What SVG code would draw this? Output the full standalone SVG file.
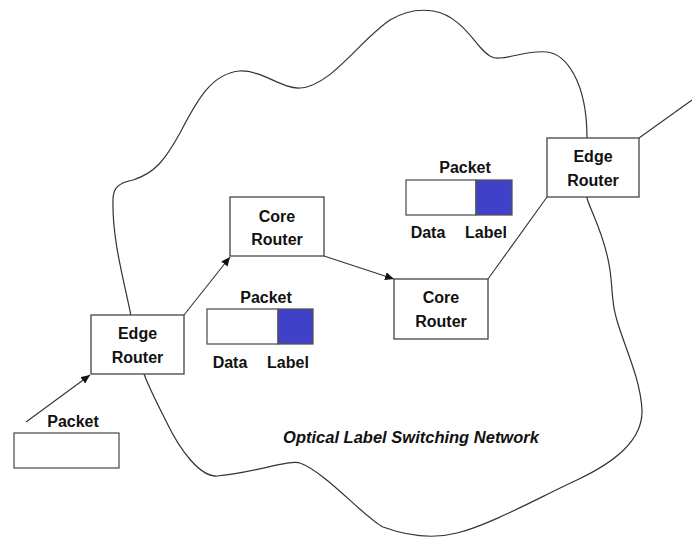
<svg xmlns="http://www.w3.org/2000/svg" width="692" height="538" viewBox="0 0 692 538">
  <style>
    .cloud { fill: none; stroke: #333; stroke-width: 1.2; }
    .box { fill: #fff; stroke: #444; stroke-width: 1.3; }
    .pkt { fill: #fff; stroke: #555; stroke-width: 1.3; }
    .lbl { fill: #3f41c8; stroke: #555; stroke-width: 1.3; }
    .link { fill: none; stroke: #333; stroke-width: 1.1; }
    .t { font-family: "Liberation Sans", Arial, sans-serif; font-weight: bold; font-size: 16px; fill: #111; text-anchor: middle; }
    .title { font-family: "Liberation Sans", Arial, sans-serif; font-weight: bold; font-style: italic; font-size: 16.5px; fill: #111; text-anchor: middle; }
  </style>
  <defs>
    <marker id="arrow" markerUnits="userSpaceOnUse" markerWidth="10" markerHeight="8" refX="9" refY="4" orient="auto">
      <path d="M0,0 L9,4 L0,8 Z" fill="#111"/>
    </marker>
  </defs>
  <rect width="692" height="538" fill="#fff"/>

  <!-- network cloud outline -->
  <path id="cloud" class="cloud" d="M131,316 C124,280 112,240 113,200 C113,188 118,183 133,180 C155,173 165,160 180,133 C197,100 212,73 240,71 C262,70 282,89 300,88 C330,87 360,40 390,20 C405,11 420,9 433,11 C455,14 470,35 480,47 C488,56 493,59 500,58 C515,57 530,50 547,52 C565,54 587,80 587,138 L587,198 C590,210 605,235 610,270 C612,285 612,295 613,300 C615,330 640,370 642,410 C643,440 615,462 577,480 C540,497 490,525 457,533 C430,540 405,535 383,527 C365,518 325,472 300,463 C290,459 250,474 217,476 C200,477 180,450 167,423 C158,405 150,390 144,374 Z"/>

  <!-- connectors -->
  <g id="connectors">
    <line class="link" x1="26" y1="422" x2="90" y2="375" marker-end="url(#arrow)"/>
    <line class="link" x1="184" y1="315" x2="230" y2="257" marker-end="url(#arrow)"/>
    <line class="link" x1="324" y1="256" x2="394" y2="279" marker-end="url(#arrow)"/>
    <line class="link" x1="547" y1="197" x2="488" y2="279"/>
    <line class="link" x1="639" y1="138" x2="692" y2="100"/>
  </g>

  <g id="edge-router-in">
    <rect class="box" x="91" y="315" width="93" height="59"/>
    <text class="t" x="137.5" y="339">Edge</text>
    <text class="t" x="137.5" y="363">Router</text>
  </g>

  <g id="core-router-1">
    <rect class="box" x="230" y="197" width="94" height="59"/>
    <text class="t" x="277" y="222">Core</text>
    <text class="t" x="277" y="245">Router</text>
  </g>

  <g id="core-router-2">
    <rect class="box" x="394" y="279" width="94" height="60"/>
    <text class="t" x="441" y="303">Core</text>
    <text class="t" x="441" y="327">Router</text>
  </g>

  <g id="edge-router-out">
    <rect class="box" x="547" y="138" width="92" height="59"/>
    <text class="t" x="593" y="162">Edge</text>
    <text class="t" x="593" y="186">Router</text>
  </g>

  <g id="packet-in">
    <text class="t" x="73" y="427">Packet</text>
    <rect class="pkt" x="14" y="433" width="105" height="35"/>
  </g>

  <g id="packet-mid">
    <text class="t" x="266" y="303">Packet</text>
    <rect class="pkt" x="207" y="309" width="71" height="35"/>
    <rect class="lbl" x="278" y="309" width="35" height="35"/>
    <text class="t" x="230" y="368">Data</text>
    <text class="t" x="288" y="368">Label</text>
  </g>

  <g id="packet-top">
    <text class="t" x="465" y="173">Packet</text>
    <rect class="pkt" x="406" y="180" width="70" height="35"/>
    <rect class="lbl" x="476" y="180" width="36" height="35"/>
    <text class="t" x="428" y="238">Data</text>
    <text class="t" x="486" y="238">Label</text>
  </g>

  <text id="network-name" class="title" x="411" y="443">Optical Label Switching Network</text>
</svg>
